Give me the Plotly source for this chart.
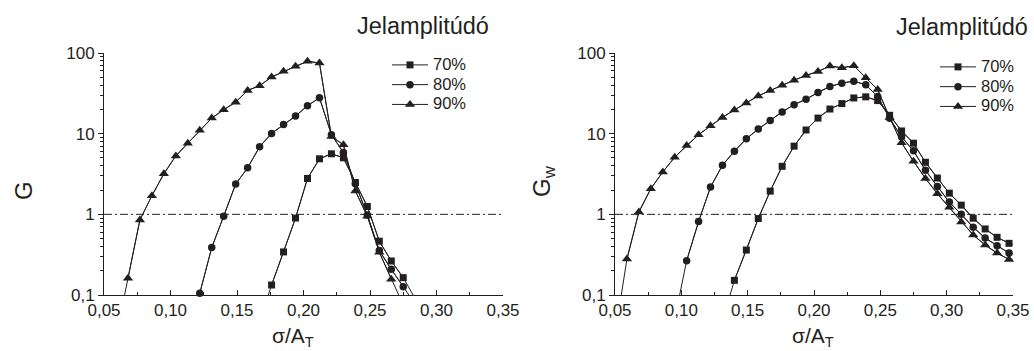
import plotly.graph_objects as go

# sigma / A_T grid shared by all series
SIGMA = [0.050, 0.059, 0.068, 0.077, 0.086, 0.095, 0.104, 0.113, 0.122, 0.131,
         0.140, 0.149, 0.158, 0.167, 0.176, 0.185, 0.194, 0.203, 0.212, 0.221,
         0.230, 0.239, 0.248, 0.257, 0.266, 0.275, 0.284, 0.293, 0.302, 0.311,
         0.320, 0.329, 0.338, 0.347, 0.356]

N = None
# G (left panel)
G_70 = [N, N, N, N, N, N, N, N, N, N,
        N, N, N, 0.047, 0.133, 0.342, 0.90, 2.78, 4.88, 5.63,
        5.02, 2.48, 1.25, 0.464, 0.264, 0.164, 0.09, N, N, N,
        N, N, N, N, N]
G_80 = [N, N, N, N, N, N, N, N, 0.105, 0.387,
        0.95, 2.37, 3.77, 6.87, 10.07, 13.0, 16.5, 22.2, 27.9, 9.7,
        5.85, 2.39, 0.98, 0.356, 0.208, 0.127, 0.076, N, N, N,
        N, N, N, N, N]
G_90 = [N, 0.03, 0.161, 0.853, 1.70, 3.18, 5.3, 7.6, 11.0, 15.6,
        19.8, 24.6, 34.4, 39.3, 50.4, 59.2, 68.3, 78.8, 75.2, 9.24,
        7.28, 1.95, 0.95, 0.34, 0.157, 0.075, N, N, N, N,
        N, N, N, N, N]

# G_w (right panel)
GW_70 = [N, N, N, N, N, N, N, N, N, 0.048,
         0.152, 0.361, 0.887, 1.94, 3.94, 7.0, 11.1, 15.6, 20.2, 23.6,
         27.7, 28.6, 25.7, 16.9, 10.8, 7.62, 4.42, 2.82, 1.83, 1.30,
         0.895, 0.659, 0.519, 0.437, 0.40]
GW_80 = [N, N, N, N, N, 0.05, 0.266, 0.813, 2.18, 4.06,
         6.06, 8.63, 11.4, 14.6, 18.6, 22.9, 26.7, 32.4, 38.4, 42.3,
         44.8, 40.3, 28.8, 15.5, 9.15, 6.12, 3.52, 2.22, 1.42, 1.0,
         0.692, 0.509, 0.409, 0.331, 0.31]
GW_90 = [0.032, 0.279, 1.07, 2.08, 3.35, 5.1, 7.13, 9.7, 12.5, 15.9,
         19.7, 24.0, 29.4, 34.3, 39.9, 46.0, 52.7, 59.1, 68.9, 65.6,
         69.5, 49.3, 35.2, 15.9, 7.7, 4.55, 2.79, 1.80, 1.22, 0.806,
         0.555, 0.416, 0.331, 0.276, 0.26]

SERIES_NAMES = ["70%", "80%", "90%"]
THRESHOLD = 1
X_RANGE = [0.05, 0.35]
Y_TICKS = [0.1, 1, 10, 100]
Y_TICKTEXT = ["0,1", "1", "10", "100"]

INK = "#231f20"
FONT = "Liberation Sans, Arial, sans-serif"
SYMBOLS = ["square", "circle", "triangle-up"]
SIZES = [7, 7.5, 9]

W, H = 1034, 351


def px_x(p):
    return p / W


def px_y(p):
    return 1 - p / H


fig = go.Figure()

panels = [
    ("x", "y", "legend", [G_70, G_80, G_90]),
    ("x2", "y2", "legend2", [GW_70, GW_80, GW_90]),
]

for xa, ya, leg, series in panels:
    for name, vals, sym, sz in zip(SERIES_NAMES, series, SYMBOLS, SIZES):
        # full polyline, clipped at the plot area
        fig.add_trace(go.Scatter(
            x=SIGMA, y=vals, mode="lines", xaxis=xa, yaxis=ya,
            line=dict(color=INK, width=1), showlegend=False,
            hoverinfo="skip", connectgaps=False,
        ))
        # markers for the points that fall inside the axis range
        shown = [v if (v is not None and v >= Y_TICKS[0] and s <= X_RANGE[1]) else None
                 for s, v in zip(SIGMA, vals)]
        fig.add_trace(go.Scatter(
            x=SIGMA, y=shown, mode="lines+markers",
            name=f'<span style="font-size:16.5px">{name}</span>',
            xaxis=xa, yaxis=ya, legend=leg, cliponaxis=False,
            line=dict(color=INK, width=1),
            marker=dict(symbol=sym, size=sz, color=INK, line=dict(width=0)),
        ))

# left panel: x from 104 to 503 px, y from 53 to 295 px
# right panel: x from 615 to 1013 px
dom_y = [px_y(295), px_y(53)]
xaxis_common = dict(
    range=X_RANGE, tick0=0.05, dtick=0.05, tickformat=".2f",
    showline=True, linecolor=INK, linewidth=1, mirror=False,
    ticks="inside", ticklen=5, tickcolor=INK, tickwidth=1,
    minor=dict(ticks="inside", ticklen=3, dtick=0.025, tick0=0.05,
               tickcolor=INK, showgrid=False),
    showgrid=False, zeroline=False, automargin=False,
    tickfont=dict(family=FONT, size=17, color=INK),
)
yaxis_common = dict(
    type="log", range=[-1, 2], tickvals=Y_TICKS, ticktext=Y_TICKTEXT,
    showline=True, linecolor=INK, linewidth=1,
    ticks="outside", ticklen=5, tickcolor=INK, tickwidth=1,
    minor=dict(ticks="outside", ticklen=3, dtick="D1", tickcolor=INK,
               showgrid=False),
    showgrid=False, zeroline=False, automargin=False,
    tickfont=dict(family=FONT, size=17, color=INK),
)

fig.update_layout(
    xaxis=dict(domain=[px_x(104), px_x(503)], anchor="y", **xaxis_common),
    yaxis=dict(domain=dom_y, anchor="x", **yaxis_common),
    xaxis2=dict(domain=[px_x(615), px_x(1013)], anchor="y2", **xaxis_common),
    yaxis2=dict(domain=dom_y, anchor="x2", **yaxis_common),
)

for xa, ya in [("x", "y"), ("x2", "y2")]:
    fig.add_shape(type="line", xref=f"{xa} domain", yref=ya,
                  x0=0, x1=1, y0=THRESHOLD, y1=THRESHOLD,
                  line=dict(color=INK, width=1, dash="8px,3px,2px,3px"))

legend_common = dict(
    xanchor="left", yanchor="top", bgcolor="rgba(0,0,0,0)",
    font=dict(family=FONT, size=12.9, color=INK),
    itemwidth=36, tracegroupgap=0, borderwidth=0,
)
fig.update_layout(
    legend=dict(x=px_x(387), y=px_y(50), **legend_common),
    legend2=dict(x=px_x(935), y=px_y(52), **legend_common),
)

annots = [
    dict(text="Jelamplitúdó", x=px_x(423), y=px_y(26), size=23.5, angle=0),
    dict(text="Jelamplitúdó", x=px_x(962), y=px_y(27), size=23.5, angle=0),
    dict(text="σ/A<sub>T</sub>", x=px_x(293), y=px_y(337), size=21, angle=0),
    dict(text="σ/A<sub>T</sub>", x=px_x(813), y=px_y(337), size=21, angle=0),
    dict(text="G", x=px_x(23), y=px_y(191), size=24, angle=-90),
    dict(text="G<sub>w</sub>", x=px_x(543), y=px_y(181), size=24, angle=-90),
]
for a in annots:
    fig.add_annotation(text=a["text"], x=a["x"], y=a["y"], xref="paper", yref="paper",
                       xanchor="center", yanchor="middle", showarrow=False,
                       textangle=a["angle"],
                       font=dict(family=FONT, size=a["size"], color=INK))

fig.update_layout(
    width=W, height=H, margin=dict(l=0, r=0, t=0, b=0),
    paper_bgcolor="white", plot_bgcolor="white",
    separators=",.", font=dict(family=FONT, color=INK),
)

fig.write_html("out.html")
